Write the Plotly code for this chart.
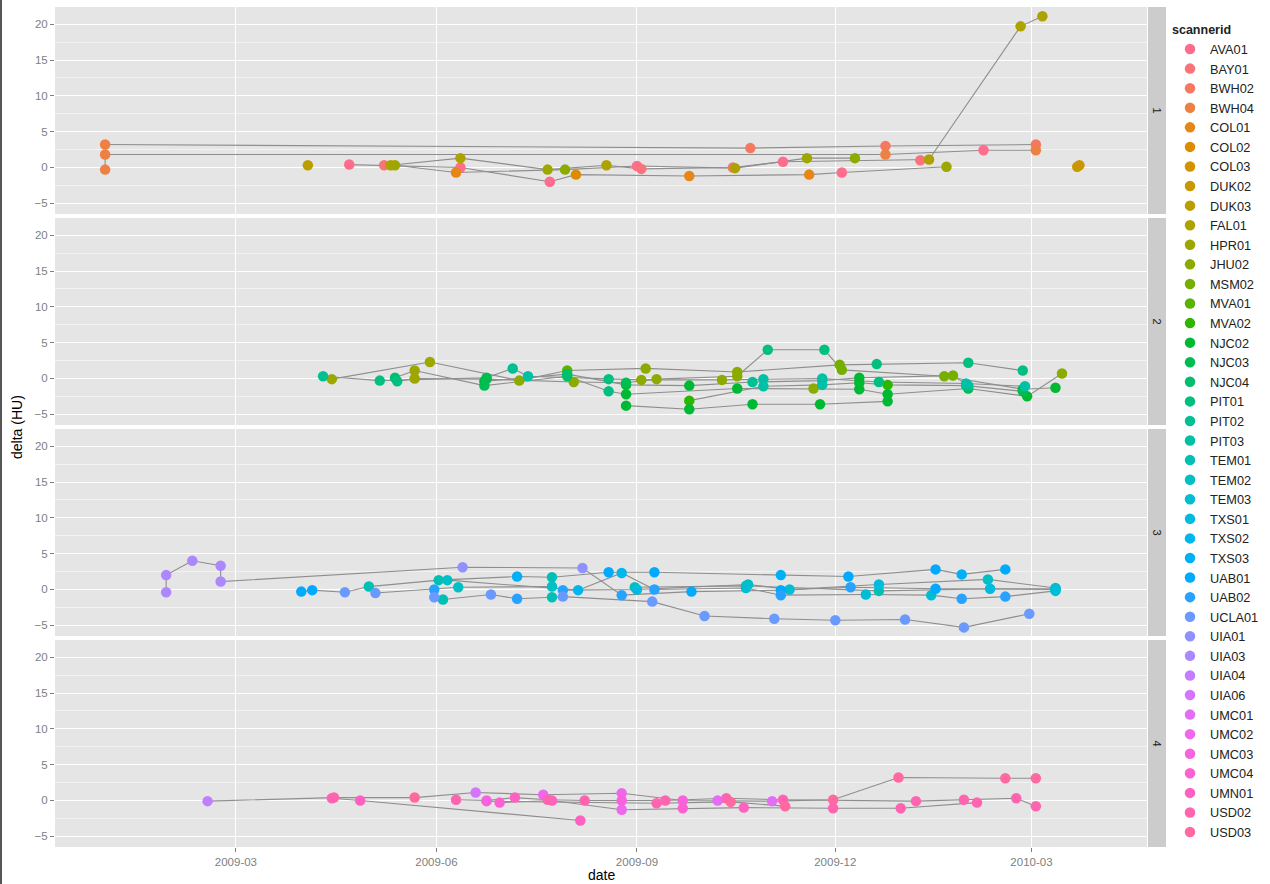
import math
import plotly.graph_objects as go

# ---------------------------------------------------------------- data
scanners = ["AVA01", "BAY01", "BWH02", "BWH04", "COL01", "COL02", "COL03",
            "DUK02", "DUK03", "FAL01", "HPR01", "JHU02", "MSM02", "MVA01",
            "MVA02", "NJC02", "NJC03", "NJC04", "PIT01", "PIT02", "PIT03",
            "TEM01", "TEM02", "TEM03", "TXS01", "TXS02", "TXS03", "UAB01",
            "UAB02", "UCLA01", "UIA01", "UIA03", "UIA04", "UIA06", "UMC01",
            "UMC02", "UMC03", "UMC04", "UMN01", "USD02", "USD03"]

panels = ["1", "2", "3", "4"]

# panel 1
p1_line = [1, 1, 1, 1,
           2, 2, 2, 2, 2,
           3, 3, 3, 3, 3, 3, 3, 3, 3,
           4, 4, 4, 4, 4, 4, 4, 4, 4, 4, 4,
           5, 5, 5, 5, 5, 5, 5,
           6,
           7, 7]
p1_date = ["2008-12-31", "2009-10-23", "2009-12-24", "2010-03-03",
           "2008-12-31", "2008-12-31", "2009-12-24", "2010-02-07", "2010-03-03",
           "2009-04-22", "2009-05-08", "2009-06-12", "2009-07-23", "2009-08-04",
           "2009-09-25", "2009-11-19", "2009-12-04", "2010-01-21",
           "2009-05-11", "2009-06-12", "2009-07-22", "2009-08-18", "2009-09-03",
           "2009-10-15", "2009-11-07", "2010-01-09", "2010-01-13", "2010-02-24",
           "2010-03-06",
           "2009-05-13", "2009-06-10", "2009-07-30", "2009-09-01", "2009-10-16",
           "2009-11-18", "2009-12-10",
           "2009-04-03",
           "2010-03-22", "2010-03-23"]
p1_delta = [3.2, 2.7, 3.0, 3.2,
            -0.3, 1.8, 1.8, 2.4, 2.4,
            0.4, 0.3, 0.0, -2.0, -1.0, -1.2, -1.0, -0.7, 0.1,
            0.3, 1.3, -0.3, 0.3, -0.2, 0.0, 0.8, 1.0, 1.1, 19.7, 21.1,
            0.3, -0.7, -0.3, 0.2, -0.1, 1.3, 1.3,
            0.3,
            0.1, 0.3]
p1_scanner = ["BWH04", "BWH02", "BWH02", "BWH02",
              "BWH04", "BWH04", "BWH04", "AVA01", "BWH04",
              "AVA01", "BAY01", "AVA01", "AVA01", "COL02", "COL01", "COL01",
              "AVA01", "HPR01",
              "FAL01", "FAL01", "HPR01", "FAL01", "BAY01", "BAY01", "AVA01",
              "BAY01", "FAL01", "FAL01", "FAL01",
              "HPR01", "COL01", "JHU02", "AVA01", "FAL01", "HPR01", "JHU02",
              "DUK03",
              "DUK02", "COL03"]

# panel 2
p2_line = [1] * 10 + [2] * 13 + [3] * 13 + [4] * 13 + [5] * 5 + [6] * 7 + [7] * 9
p2_date = ["2009-04-14", "2009-05-29", "2009-07-09", "2009-07-31", "2009-09-05",
           "2009-10-17", "2009-12-03", "2009-12-20", "2010-01-31", "2010-02-25",
           "2009-04-10", "2009-05-06", "2009-06-24", "2009-07-06", "2009-07-13",
           "2009-08-19", "2009-09-03", "2009-10-10", "2009-10-29", "2009-11-25",
           "2009-12-21", "2010-01-30", "2010-02-26",
           "2009-05-13", "2009-05-22", "2009-06-23", "2009-07-31", "2009-08-19",
           "2009-08-27", "2009-10-17", "2009-11-21", "2009-12-12", "2009-12-25",
           "2010-01-31", "2010-02-27", "2010-03-15",
           "2009-05-14", "2009-05-22", "2009-06-24", "2009-08-03", "2009-08-27",
           "2009-09-10", "2009-10-17", "2009-10-31", "2009-11-26", "2009-12-04",
           "2010-01-20", "2010-02-25", "2010-03-12",
           "2009-08-27", "2009-09-25", "2009-10-24", "2009-11-24", "2009-12-25",
           "2009-09-25", "2009-10-29", "2009-11-25", "2009-12-12", "2009-12-25",
           "2010-01-30", "2010-02-25",
           "2009-06-23", "2009-07-31", "2009-08-27", "2009-09-25", "2009-10-24",
           "2009-11-25", "2009-12-12", "2010-01-24", "2010-01-31"]
p2_delta = [-0.1, 2.3, -0.3, 1.1, 1.4, 0.9, 1.9, 2.0, 2.2, 1.1,
            0.3, -0.3, 0.1, 1.4, 0.3, -0.1, -0.2, -0.2, -0.1, 0.0, -0.5, -0.7, -1.1,
            0.1, 1.1, -1.0, 0.3, -1.8, -2.2, -1.4, -1.4, -1.5, -2.2, -1.4, -2.5, 0.7,
            -0.4, 0.0, -0.1, -0.5, -0.6, -0.1, 0.3, 4.0, 4.0, 1.2, 0.3, -1.5, -1.3,
            -3.8, -4.3, -3.6, -3.6, -3.2,
            -3.1, -1.1, -0.9, -0.6, -0.9, -1.0, -1.8,
            -0.4, 0.6, -0.9, -1.0, -0.5, -0.3, 0.1, 0.4, -1.0]
p2_scanner = ["HPR01", "HPR01", "JHU02", "MVA01", "JHU02", "JHU02", "MSM02",
              "PIT01", "PIT01", "PIT01",
              "PIT02", "PIT01", "NJC03", "PIT02", "PIT03", "PIT01", "JHU02",
              "JHU02", "PIT03", "PIT03", "PIT01", "PIT03", "PIT03",
              "NJC04", "HPR01", "NJC03", "NJC04", "PIT01", "NJC02", "NJC02",
              "JHU02", "NJC02", "NJC02", "NJC03", "NJC02", "JHU02",
              "PIT01", "HPR01", "NJC03", "JHU02", "NJC03", "JHU02", "JHU02",
              "PIT01", "PIT01", "MSM02", "MSM02", "NJC02", "NJC02",
              "NJC02", "NJC02", "NJC02", "NJC02", "NJC02",
              "MVA02", "PIT03", "PIT03", "NJC02", "MVA02", "NJC04", "NJC03",
              "NJC02", "NJC04", "NJC02", "NJC02", "PIT02", "PIT03", "NJC02",
              "MSM02", "PIT02"]

# panel 3
p3_line = [1] * 13 + [2] * 14 + [3] * 11 + [4] * 13 + [5] * 11 + [6] * 5
p3_date = ["2009-01-28", "2009-01-28", "2009-02-09", "2009-02-22", "2009-02-22",
           "2009-06-13", "2009-08-07", "2009-08-25", "2009-09-26", "2009-11-06",
           "2009-12-08", "2010-01-16", "2010-03-12",
           "2009-03-31", "2009-04-05", "2009-04-20", "2009-05-01", "2009-06-02",
           "2009-07-08", "2009-07-24", "2009-08-19", "2009-09-09", "2009-11-06",
           "2009-12-07", "2010-01-16", "2010-01-28", "2010-02-17",
           "2009-05-04", "2009-05-31", "2009-06-11", "2009-07-24", "2009-07-29",
           "2009-09-01", "2009-10-22", "2009-11-10", "2009-12-21", "2010-02-09",
           "2010-03-12",
           "2009-05-31", "2009-06-04", "2009-06-26", "2009-07-08", "2009-07-24",
           "2009-07-29", "2009-09-08", "2009-10-02", "2009-11-03", "2009-12-01",
           "2010-01-02", "2010-01-29", "2010-02-28",
           "2009-06-06", "2009-08-05", "2009-08-25", "2009-09-09", "2009-10-21",
           "2009-11-06", "2009-12-15", "2010-01-14", "2010-01-28", "2010-02-17",
           "2010-03-12",
           "2009-08-31", "2009-10-21", "2009-12-21", "2010-02-10", "2010-03-12"]
p3_delta = [-0.4, 2.0, 4.0, 3.3, 1.1, 3.1, 3.0, -0.8, -0.3, -0.1, 0.3, 0.1, 0.0,
            -0.3, -0.1, -0.4, 0.4, 1.3, 1.8, 1.7, 2.4, 2.4, 2.0, 1.8, 2.8, 2.1, 2.8,
            -0.5, 0.0, 0.3, 0.4, -0.1, 0.0, 0.7, 0.0, 0.7, 1.4, 0.2,
            -1.1, -1.4, -0.7, -1.3, -1.1, -1.0, -1.7, -3.7, -4.1, -4.3, -4.2, -5.3, -3.4,
            1.3, -0.1, 2.3, 0.0, 0.2, -0.8, -0.7, -0.8, -1.3, -1.0, -0.2,
            0.3, 0.5, -0.2, 0.1, 0.1]
p3_scanner = ["UIA03", "UIA03", "UIA03", "UIA03", "UIA03", "UIA01", "UIA01",
              "UAB02", "UAB01", "UAB01", "UAB02", "UAB01", "TEM03",
              "UAB01", "UAB01", "UCLA01", "TEM01", "TEM01", "TXS03", "TEM01",
              "UAB01", "UAB01", "TXS03", "UAB01", "UAB01", "TXS03", "UAB01",
              "UCLA01", "UAB02", "TEM02", "TEM02", "UAB02", "TXS01", "TEM02",
              "TEM03", "TXS01", "TEM02", "TEM02",
              "UCLA01", "TEM01", "UCLA01", "UAB02", "TEM01", "UCLA01", "UCLA01",
              "UCLA01", "UCLA01", "UCLA01", "UCLA01", "UCLA01", "UCLA01",
              "TEM02", "TXS02", "TXS02", "UAB02", "TEM03", "UAB02", "TEM03",
              "TEM03", "UAB02", "UAB02", "TEM03",
              "TEM01", "TEM01", "TEM01", "TXS01", "TEM01"]

# panel 4
p4_line = [1] * 13 + [2] * 3 + [3] * 13 + [4] * 8 + [5] * 4
p4_date = ["2009-02-16", "2009-04-15", "2009-05-22", "2009-06-19", "2009-07-20",
           "2009-08-25", "2009-09-22", "2009-10-08", "2009-11-02", "2009-11-30",
           "2009-12-30", "2010-02-17", "2010-03-03",
           "2009-04-14", "2009-04-27", "2009-08-06",
           "2009-06-10", "2009-06-24", "2009-07-07", "2009-07-22", "2009-08-08",
           "2009-08-25", "2009-09-14", "2009-10-12", "2009-11-07", "2010-01-07",
           "2010-01-29", "2010-02-22", "2010-03-03",
           "2009-06-30", "2009-07-24", "2009-08-25", "2009-09-22", "2009-10-20",
           "2009-11-30", "2009-12-31", "2010-02-04",
           "2009-06-24", "2009-09-10", "2009-10-14", "2009-11-08"]
p4_delta = [-0.1, 0.4, 0.4, 1.1, 0.8, 1.0, 0.0, 0.0, -0.1, 0.1, 3.2, 3.1, 3.1,
            0.3, 0.0, -2.8,
            0.1, 0.0, 0.4, 0.1, 0.0, 0.0, 0.0, 0.3, 0.1, -0.1, 0.1, 0.3, -0.8,
            -0.3, 0.0, -1.3, -1.1, -1.0, -1.1, -1.1, -0.3,
            -0.1, -0.4, -0.2, -0.8]
p4_scanner = ["UIA04", "USD02", "USD03", "UIA06", "UMC02", "UMC02", "UMC03",
              "UMC01", "UMC01", "USD03", "USD03", "USD03", "USD03",
              "UMN01", "UMN01", "UMN01",
              "USD02", "UMC03", "UMN01", "USD02", "USD02", "UMC03", "USD02",
              "USD02", "USD02", "USD02", "USD02", "USD02", "USD02",
              "UMC04", "UMN01", "UMC02", "UMC04", "UMN01", "USD02", "USD02", "USD02",
              "UMC03", "USD02", "USD03", "USD03"]

panel_data = [
    (p1_line, p1_date, p1_delta, p1_scanner),
    (p2_line, p2_date, p2_delta, p2_scanner),
    (p3_line, p3_date, p3_delta, p3_scanner),
    (p4_line, p4_date, p4_delta, p4_scanner),
]

x_ticks = ["2009-03-01", "2009-06-01", "2009-09-01", "2009-12-01", "2010-03-01"]
x_tick_text = ["2009-03", "2009-06", "2009-09", "2009-12", "2010-03"]
y_ticks = [-5, 0, 5, 10, 15, 20]
y_minor = [-2.5, 2.5, 7.5, 12.5, 17.5]


# ---------------------------------------------------------------- colours
def hcl_hex(h, c=100.0, l=65.0):
    """Polar CIE-Luv (as in R's hcl()) to an sRGB hex string."""
    xn, yn, zn = 95.047, 100.0, 108.883
    hr = math.radians(h)
    u_, v_ = c * math.cos(hr), c * math.sin(hr)
    y = yn * ((l + 16) / 116) ** 3
    den = xn + 15 * yn + 3 * zn
    un, vn = 4 * xn / den, 9 * yn / den
    up = u_ / (13 * l) + un
    vp = v_ / (13 * l) + vn
    x = 9 * y * up / (4 * vp)
    z = (9 * y / vp - x - 15 * y) / 3
    x, y, z = x / 100, y / 100, z / 100
    rgb = [3.240479 * x - 1.537150 * y - 0.498535 * z,
           -0.969256 * x + 1.875992 * y + 0.041556 * z,
           0.055648 * x - 0.204043 * y + 1.057311 * z]
    out = []
    for ch in rgb:
        ch = 12.92 * ch if ch <= 0.0031308 else 1.055 * ch ** (1 / 2.4) - 0.055
        out.append(int(round(min(max(ch, 0.0), 1.0) * 255)))
    return "#%02X%02X%02X" % tuple(out)


n = len(scanners)
hue_start = 2.0
palette = {s: hcl_hex((hue_start + i * 360.0 / n) % 360) for i, s in enumerate(scanners)}

# ---------------------------------------------------------------- layout geometry (pixels)
W, H = 1270, 884
x_left, x_right = 55, 1147
panel_px = [(7, 214), (218, 425), (429, 636), (640, 847)]
strip_px = (1148, 1166)


def py(v):
    return 1 - v / H


fig = go.Figure()

# grey connecting lines first, then the points on top
for k, (lines, dates, deltas, scans) in enumerate(panel_data):
    ax = "" if k == 0 else str(k + 1)
    for lid in sorted(set(lines)):
        idx = [i for i, g in enumerate(lines) if g == lid]
        if len(idx) < 2:
            continue
        fig.add_trace(go.Scatter(
            x=[dates[i] for i in idx], y=[deltas[i] for i in idx],
            mode="lines", line=dict(color="#8E8E8E", width=1.1),
            xaxis="x" + ax, yaxis="y" + ax, showlegend=False, hoverinfo="skip"))

shown = set()
for k, (lines, dates, deltas, scans) in enumerate(panel_data):
    ax = "" if k == 0 else str(k + 1)
    for rank, s in enumerate(scanners):
        idx = [i for i, sc in enumerate(scans) if sc == s]
        if not idx:
            continue
        fig.add_trace(go.Scatter(
            x=[dates[i] for i in idx], y=[deltas[i] for i in idx],
            mode="markers", name=s, legendgroup=s, legendrank=rank + 1,
            showlegend=s not in shown,
            marker=dict(color=palette[s], size=10.5, line=dict(width=0)),
            xaxis="x" + ax, yaxis="y" + ax))
        shown.add(s)

tick_font = dict(family="Liberation Sans, Arial, sans-serif", size=11.5, color="#808080")
layout = dict(
    width=W, height=H,
    margin=dict(l=0, r=0, t=0, b=0),
    paper_bgcolor="white", plot_bgcolor="#E5E5E5",
    font=dict(family="Liberation Sans, Arial, sans-serif", color="black"),
    legend=dict(
        x=1170 / W, y=py(18), xanchor="left", yanchor="top",
        title=dict(text="<b>scannerid</b>", font=dict(size=12.5)),
        font=dict(size=12.75, color="#222222"),
        tracegroupgap=0, itemclick=False, itemdoubleclick=False,
        bgcolor="rgba(0,0,0,0)"),
    showlegend=True,
)

for k in range(4):
    ax = "" if k == 0 else str(k + 1)
    top, bot = panel_px[k]
    layout["xaxis" + ax] = dict(
        domain=[x_left / W, x_right / W], anchor="y" + ax,
        type="date", range=["2008-12-08", "2010-04-23"],
        tickvals=x_ticks, ticktext=x_tick_text,
        showticklabels=(k == 3), ticks="outside" if k == 3 else "",
        ticklen=4, tickcolor="#7F7F7F", tickfont=tick_font,
        showgrid=True, gridcolor="white", gridwidth=1.3,
        zeroline=False, showline=False,
        **({} if k == 0 else dict(matches="x")))
    layout["yaxis" + ax] = dict(
        domain=[py(bot), py(top)], anchor="x" + ax,
        range=[-6.5, 22.4], tickvals=y_ticks,
        ticks="outside", ticklen=4, tickcolor="#7F7F7F", tickfont=tick_font,
        showgrid=True, gridcolor="white", gridwidth=1.3,
        minor=dict(tickvals=y_minor, showgrid=True, gridcolor="#F2F2F2",
                   gridwidth=0.6, ticks=""),
        zeroline=False, showline=False)

fig.update_layout(**layout)

shapes = []
annotations = []
for k, (top, bot) in enumerate(panel_px):
    shapes.append(dict(type="rect", xref="paper", yref="paper",
                       x0=strip_px[0] / W, x1=strip_px[1] / W, y0=py(bot), y1=py(top),
                       fillcolor="#CCCCCC", line=dict(width=0), layer="below"))
    annotations.append(dict(xref="paper", yref="paper",
                            x=(strip_px[0] + strip_px[1]) / 2 / W,
                            y=py((top + bot) / 2), text=panels[k], textangle=90,
                            xanchor="center", yanchor="middle",
                            showarrow=False, font=dict(size=11, color="#1A1A1A")))

shapes.append(dict(type="line", xref="paper", yref="paper", x0=0.0008, x1=0.0008,
                   y0=0, y1=1, line=dict(color="#555555", width=2)))

annotations.append(dict(xref="paper", yref="paper", x=(x_left + x_right) / 2 / W,
                        y=py(875), text="date", showarrow=False,
                        xanchor="center", yanchor="middle",
                        font=dict(size=14, color="black")))
annotations.append(dict(xref="paper", yref="paper", x=17 / W,
                        y=py((panel_px[0][0] + panel_px[3][1]) / 2),
                        text="delta (HU)", textangle=-90, showarrow=False,
                        xanchor="center", yanchor="middle",
                        font=dict(size=14, color="black")))

fig.update_layout(shapes=shapes, annotations=annotations)

fig.write_html("out.html")
